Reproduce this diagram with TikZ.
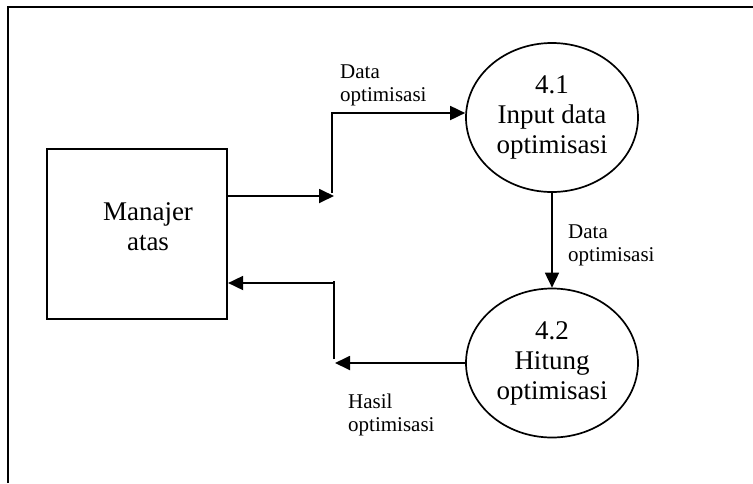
\documentclass[tikz,border=0pt]{standalone}
\usepackage{fontspec}
\setmainfont{Liberation Serif}
\usetikzlibrary{arrows.meta,shapes.geometric}
\begin{document}
\begin{tikzpicture}[x=1pt,y=-1pt,
  big/.style={font=\fontsize{27}{30}\selectfont, align=center, inner sep=0pt},
  small/.style={font=\fontsize{21}{23}\selectfont, align=left, inner sep=0pt},
  proc/.style={draw, line width=1.7pt, ellipse, minimum width=172pt, minimum height=149pt, big},
  ent/.style={draw, line width=2.2pt, minimum width=180pt, minimum height=170pt, inner sep=0pt},
  flow/.style={line width=1.8pt, -{Triangle[length=15pt,width=14pt]}},
  seg/.style={line width=1.8pt}
]
\useasboundingbox (0,0) rectangle (753,483);
\draw[line width=2.4pt] (8,483) -- (8,7) -- (753,7);

\node[ent] (ma) at (137,234) {};
\node[big] (mt) at (148,226.5) {Manajer\\atas};

\node[proc] (p1) at (552,117.5) {4.1\\Input data\\optimisasi};
\node[proc] (p2) at (552,363) {4.2\\Hitung\\optimisasi};

\node[small, anchor=west] (l1) at (340,85.3) {Data\\optimisasi};
\node[small, anchor=west] (l2) at (568,245.3) {Data\\optimisasi};
\node[small, anchor=west] (l3) at (348,414.8) {Hasil\\optimisasi};

\coordinate (a1) at (334,196);
\coordinate (b1) at (332,193);
\coordinate (b2) at (332,113);
\draw[flow] (ma.east |- a1) -- (a1);
\draw[flow] (b1) -- (b2) -- (b2 -| p1.west);

\draw[flow] (p1.south) -- (p2.north);

\coordinate (c1) at (335,363);
\coordinate (c2) at (334,359);
\coordinate (c3) at (334,281);
\coordinate (c4) at (334,283);
\draw[flow] (p2.west) -- (c1);
\draw[seg] (c2) -- (c3);
\draw[flow] (c4) -- (c4 -| ma.east);
\end{tikzpicture}
\end{document}
